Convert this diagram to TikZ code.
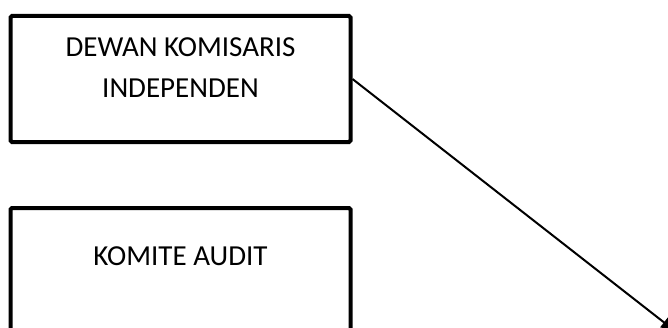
\documentclass[tikz,border=0pt]{standalone}
\usepackage{fontspec}
\setmainfont{Carlito}
\usetikzlibrary{arrows.meta}
\begin{document}
\begin{tikzpicture}[x=1pt,y=1pt,
  orgbox/.style={draw, line width=4pt, rounded corners=1.5pt, inner sep=0pt, minimum width=340pt},
  boxtext/.style={font=\fontsize{29}{35}\selectfont, inner sep=0pt, anchor=base},
  link/.style={line width=2pt, -{Triangle[length=14pt,width=12pt]}}]
\clip (0,0) rectangle (668,327);
\useasboundingbox (0,0) rectangle (668,327);
\node[orgbox, minimum height=126pt] (dk) at (180.5,248) {};
\node[orgbox, minimum height=137pt] (ka) at (180.5,50.5) {};
\node[boxtext] (dkA) at (180.5,270) {DEWAN KOMISARIS};
\node[boxtext] (dkB) at (180.5,229) {INDEPENDEN};
\node[boxtext] (kaA) at (180.5,62) {KOMITE AUDIT};
\coordinate (tip) at (675,-4);
\draw[link] (dk.east) -- (tip);
\end{tikzpicture}
\end{document}
